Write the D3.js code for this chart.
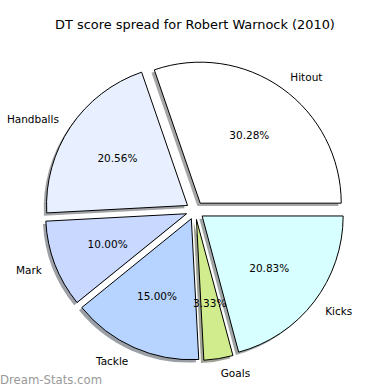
<!DOCTYPE html>
<html>
<head>
<meta charset="utf-8">
<script src="https://cdn.jsdelivr.net/npm/d3@7"></script>
<style>
  body { margin: 0; background: #fff; }
  svg { display: block; font-family: "DejaVu Sans", sans-serif; }
</style>
</head>
<body>
<div id="chart"></div>
<script>
const categories = ['Hitout', 'Handballs', 'Mark', 'Tackle', 'Goals', 'Kicks'];
const values = [30.28, 20.56, 10.00, 15.00, 3.33, 20.83];
const colors = ['#ffffff', '#e8f0ff', '#c8d8ff', '#b6d4ff', '#d0ec8c', '#d8ffff'];
const pctLabels = ['30.28%', '20.56%', '10.00%', '15.00%', '3.33%', '20.83%'];

const width = 390, height = 390;
const cx = 195, cy = 210.5;
const radius = 141;
const explode = 9;
const shadowOff = 0.02 * radius;

const svg = d3.select('#chart').append('svg')
  .attr('width', width)
  .attr('height', height);

svg.append('text')
  .attr('x', 195)
  .attr('y', 25)
  .attr('text-anchor', 'middle')
  .attr('dominant-baseline', 'middle')
  .style('font-size', '12.9px')
  .text('DT score spread for Robert Warnock (2010)');

const data = categories.map((c, i) => ({name: c, value: values[i], color: colors[i], pct: pctLabels[i]}));

// matplotlib style: start at 3 o'clock, go counterclockwise
const pie = d3.pie()
  .sort(null)
  .value(d => d.value)
  .startAngle(Math.PI / 2)
  .endAngle(Math.PI / 2 - 2 * Math.PI);

const arcs = pie(data);
const arc = d3.arc().innerRadius(0).outerRadius(radius);

const g = svg.append('g').attr('transform', `translate(${cx},${cy})`);

function dir(d) {
  const a = (d.startAngle + d.endAngle) / 2;
  return [Math.sin(a), -Math.cos(a)];
}

// shadows first, under every wedge
g.selectAll('path.shadow')
  .data(arcs)
  .enter()
  .append('path')
  .attr('class', 'shadow')
  .attr('d', arc)
  .attr('transform', d => {
    const [dx, dy] = dir(d);
    return `translate(${dx * explode - shadowOff},${dy * explode + shadowOff})`;
  })
  .style('fill', d => {
    const c = d3.rgb(d.data.color);
    return d3.rgb(c.r * 0.3, c.g * 0.3, c.b * 0.3);
  })
  .style('fill-opacity', 0.5);

g.selectAll('path.wedge')
  .data(arcs)
  .enter()
  .append('path')
  .attr('class', 'wedge')
  .attr('d', arc)
  .attr('transform', d => {
    const [dx, dy] = dir(d);
    return `translate(${dx * explode},${dy * explode})`;
  })
  .style('fill', d => d.data.color)
  .style('stroke', '#000')
  .style('stroke-width', 1)
  .style('stroke-linejoin', 'miter');

// category labels
g.selectAll('text.label')
  .data(arcs)
  .enter()
  .append('text')
  .attr('class', 'label')
  .attr('x', d => { const [dx] = dir(d); return dx * explode + dx * radius * 1.1; })
  .attr('y', d => { const [dx, dy] = dir(d); return dy * explode + dy * radius * 1.1; })
  .attr('dy', '0.4em')
  .attr('text-anchor', d => dir(d)[0] > 0 ? 'start' : 'end')
  .style('font-size', '10.5px')
  .text(d => d.data.name);

// percentage labels
g.selectAll('text.pct')
  .data(arcs)
  .enter()
  .append('text')
  .attr('class', 'pct')
  .attr('x', d => { const [dx] = dir(d); return dx * explode + dx * radius * 0.6; })
  .attr('y', d => { const [dx, dy] = dir(d); return dy * explode + dy * radius * 0.6; })
  .attr('dy', '0.4em')
  .attr('text-anchor', 'middle')
  .style('font-size', '10.5px')
  .text(d => d.data.pct);

svg.append('text')
  .attr('x', 0)
  .attr('y', 384)
  .style('font-size', '11.7px')
  .style('fill', '#999')
  .text('Dream-Stats.com');
</script>
</body>
</html>
